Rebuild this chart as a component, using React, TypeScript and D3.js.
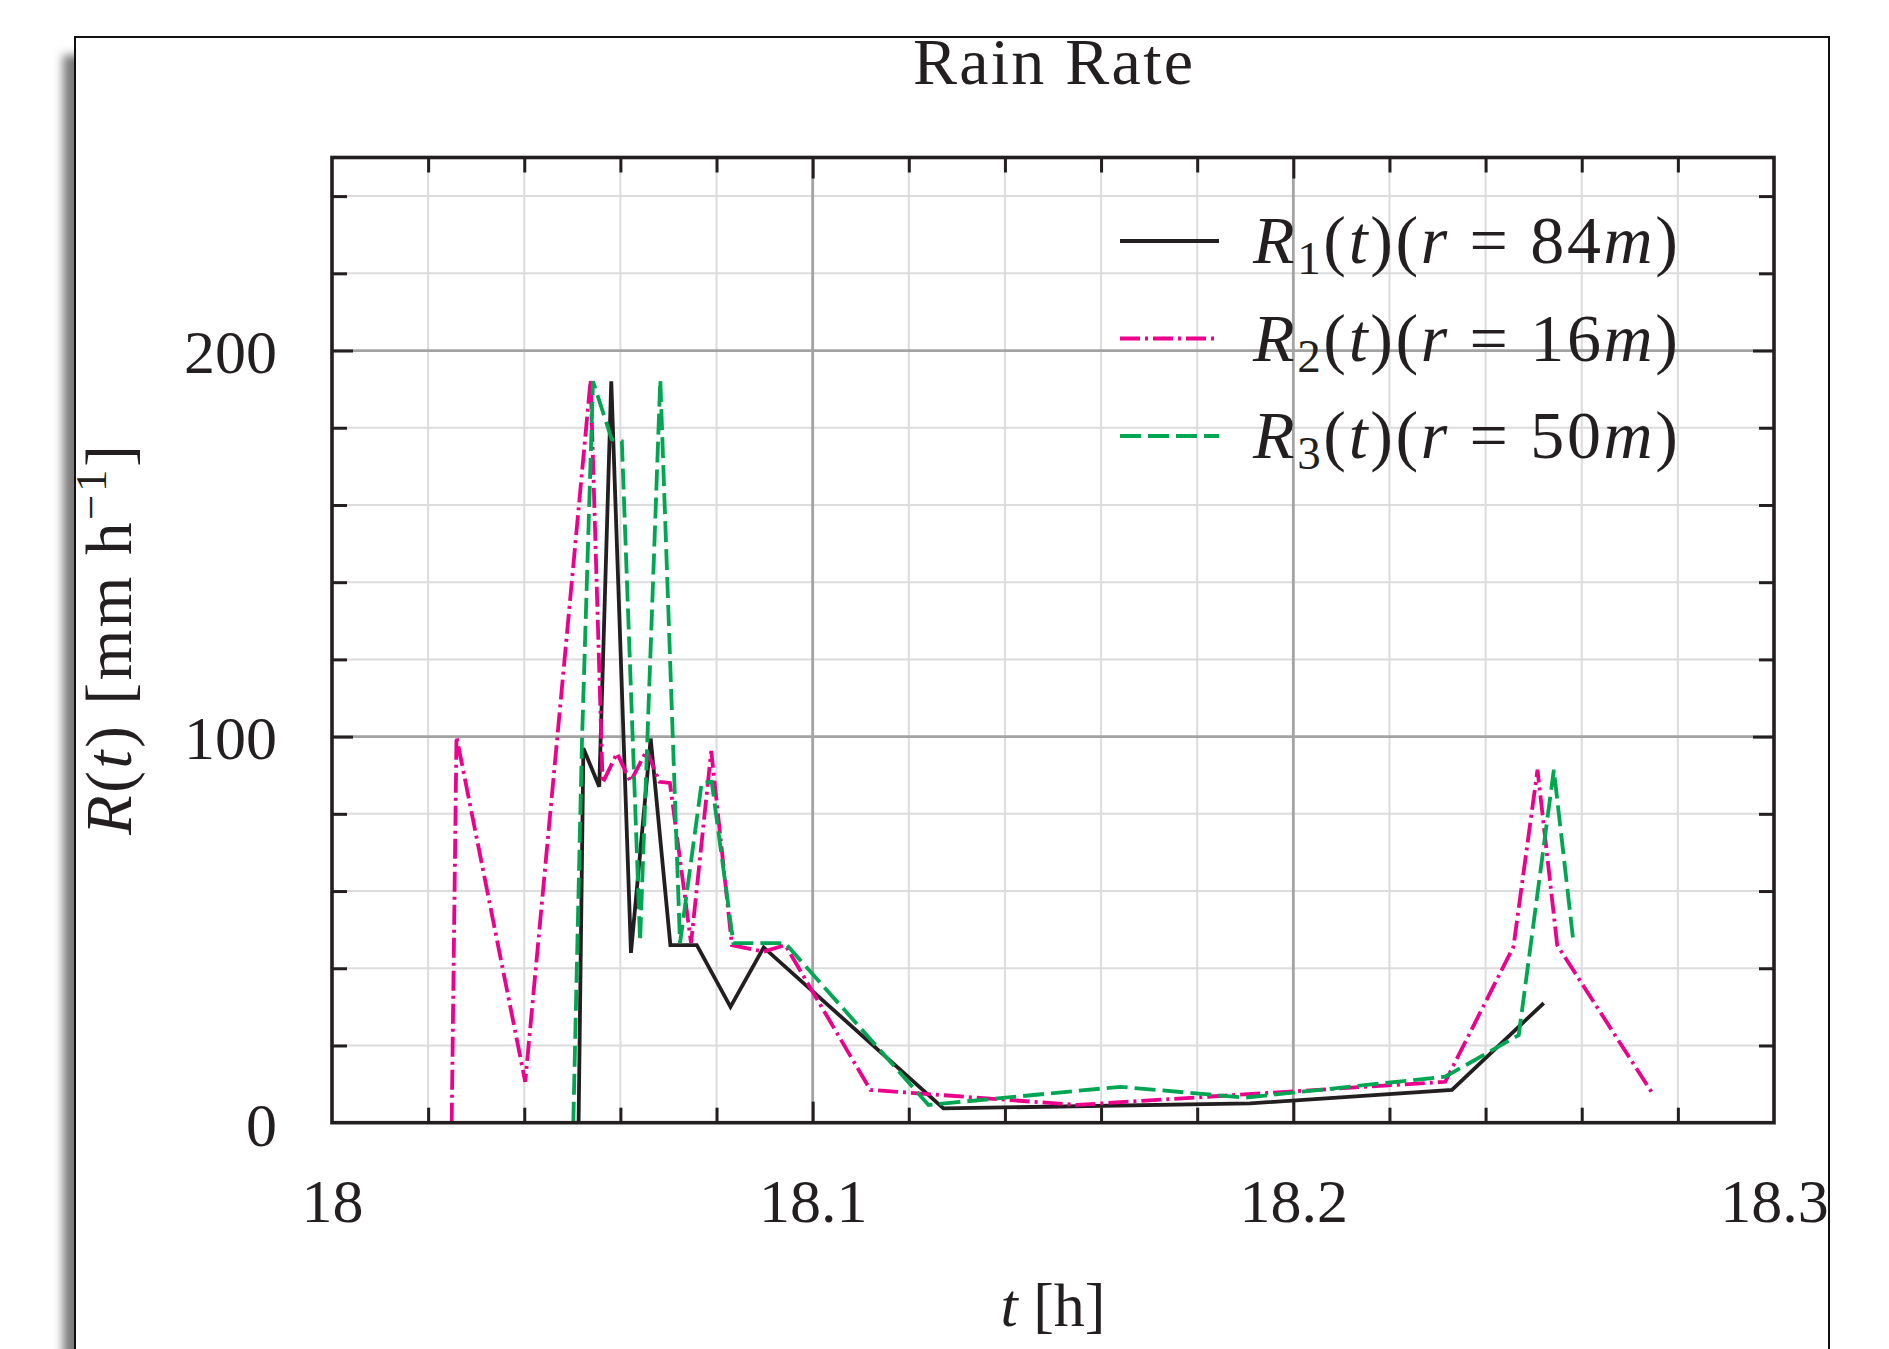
import React, { useEffect, useRef } from "react";
import * as d3 from "d3";

// R1(t), r = 84 m  (solid black)
const r1Time = [18.0513, 18.0523, 18.0556, 18.0581, 18.0622, 18.0663, 18.0704, 18.0759, 18.0829, 18.0898, 18.1272, 18.191, 18.233, 18.2521];
const r1Rate = [0, 97, 87, 192, 44, 99.5, 46, 46, 30, 45.4, 3.7, 5.0, 8.5, 31];

// R2(t), r = 16 m  (magenta dash-dot)
const r2Time = [18.0249, 18.0259, 18.0402, 18.0538, 18.0563, 18.0593, 18.0621, 18.0655, 18.0681, 18.0703, 18.0747, 18.0789, 18.0832, 18.0898, 18.0943, 18.112, 18.155, 18.2316, 18.2458, 18.2508, 18.2549, 18.2747];
const r2Rate = [0, 100, 10.6, 192.4, 88, 95.7, 88.3, 96.5, 88.3, 88, 46.5, 96.3, 46, 44.3, 46, 8.5, 4.6, 10.6, 45.6, 91.4, 46, 7.6];

// R3(t), r = 50 m  (green dashed)
const r3Time = [18.0502, 18.052, 18.0543, 18.0582, 18.0603, 18.0641, 18.0683, 18.0724, 18.0769, 18.079, 18.0835, 18.0943, 18.1241, 18.164, 18.19, 18.2316, 18.2469, 18.2542, 18.2583];
const r3Rate = [0, 98.5, 192, 177, 176.5, 47, 192.4, 46.5, 88, 88.3, 46.5, 46.5, 4.6, 9.3, 6.5, 11.9, 22.7, 91.4, 46.5];

const xTicks = [18, 18.1, 18.2, 18.3];
const xTickLabels = ["18", "18.1", "18.2", "18.3"];
const yTicks = [0, 100, 200];
const yTickLabels = ["0", "100", "200"];
const legendIndex = ["1", "2", "3"];
const legendRadius = ["84", "16", "50"];

const FONT = "'Liberation Serif', 'Times New Roman', serif";
const INK = "#231f20";

const App = () => {
  const svgRef = useRef<SVGSVGElement>(null);

  useEffect(() => {
    const svg = d3.select(svgRef.current);
    svg.selectAll("*").remove();

    const height = 1349;
    const frame = { x: 75, y: 37, w: 1754, h: 1320 };
    const plot = { left: 332, right: 1774, top: 157.5, bottom: 1122.7 };

    const x = d3.scaleLinear().domain([18, 18.3]).range([plot.left, plot.right]);
    const y = d3.scaleLinear().domain([0, 250]).range([plot.bottom, plot.top]);

    const series = [
      { t: r1Time, v: r1Rate, color: INK, dash: null },
      { t: r2Time, v: r2Rate, color: "#ec008c", dash: "20 5 3 5" },
      { t: r3Time, v: r3Rate, color: "#00a651", dash: "21 7" },
    ];

    // shadow + frame
    const defs = svg.append("defs");
    defs.append("filter").attr("id", "blur").attr("x", "-50%").attr("width", "200%")
      .append("feGaussianBlur").attr("stdDeviation", 5);
    svg.append("rect")
      .attr("x", frame.x - 12).attr("y", frame.y + 18)
      .attr("width", 30).attr("height", height)
      .attr("fill", "#7a7a7a").attr("filter", "url(#blur)");
    svg.append("rect")
      .attr("x", frame.x).attr("y", frame.y)
      .attr("width", frame.w).attr("height", frame.h)
      .attr("fill", "#fff").attr("stroke", "#111").attr("stroke-width", 2);

    // title
    svg.append("text")
      .attr("x", (plot.left + plot.right) / 2).attr("y", 84)
      .attr("text-anchor", "middle").attr("font-family", FONT).attr("font-size", 66)
      .attr("textLength", 280).attr("lengthAdjust", "spacing")
      .attr("fill", INK).text("Rain Rate");

    // grid
    const xMinor = d3.range(18.02, 18.29, 0.02).filter(d => Math.abs(d - 18.1) > 1e-6 && Math.abs(d - 18.2) > 1e-6);
    const yMinor = d3.range(20, 250, 20).filter(d => d !== 100 && d !== 200);
    const xMajor = [18.1, 18.2];
    const yMajor = [100, 200];

    const grid = svg.append("g");
    grid.selectAll(".vx").data(xMinor).join("line")
      .attr("x1", d => x(d)).attr("x2", d => x(d))
      .attr("y1", plot.top).attr("y2", plot.bottom)
      .attr("stroke", "#dcdcdc").attr("stroke-width", 2);
    grid.selectAll(".hy").data(yMinor).join("line")
      .attr("x1", plot.left).attr("x2", plot.right)
      .attr("y1", d => y(d)).attr("y2", d => y(d))
      .attr("stroke", "#dcdcdc").attr("stroke-width", 2);
    grid.selectAll(".vX").data(xMajor).join("line")
      .attr("x1", d => x(d)).attr("x2", d => x(d))
      .attr("y1", plot.top).attr("y2", plot.bottom)
      .attr("stroke", "#a3a3a3").attr("stroke-width", 2.8);
    grid.selectAll(".hY").data(yMajor).join("line")
      .attr("x1", plot.left).attr("x2", plot.right)
      .attr("y1", d => y(d)).attr("y2", d => y(d))
      .attr("stroke", "#a3a3a3").attr("stroke-width", 2.8);

    // series
    const line = d3.line<[number, number]>().x(d => x(d[0])).y(d => y(d[1]));
    series.forEach(s => {
      const pts = s.t.map((t, i) => [t, s.v[i]] as [number, number]);
      const p = svg.append("path")
        .datum(pts)
        .attr("fill", "none")
        .attr("stroke", s.color)
        .attr("stroke-width", 3.8)
        .attr("stroke-linejoin", "miter")
        .attr("d", line);
      if (s.dash) p.attr("stroke-dasharray", s.dash);
    });

    // legend
    const lg = svg.append("g");
    const legendY = [241, 338.5, 436];
    series.forEach((s, i) => {
      const ly = legendY[i];
      const l = lg.append("line")
        .attr("x1", 1120).attr("x2", 1219).attr("y1", ly).attr("y2", ly)
        .attr("stroke", s.color).attr("stroke-width", 3.8);
      if (s.dash) l.attr("stroke-dasharray", s.dash);
      const t = lg.append("text")
        .attr("x", 1253).attr("y", ly + 22)
        .attr("font-family", FONT).attr("font-size", 68).attr("fill", INK)
        .attr("textLength", 425).attr("lengthAdjust", "spacing");
      t.append("tspan").attr("font-style", "italic").text("R");
      t.append("tspan").attr("font-size", 47).attr("dy", 11).text(legendIndex[i]);
      t.append("tspan").attr("dy", -11).text("(");
      t.append("tspan").attr("font-style", "italic").text("t");
      t.append("tspan").text(")(");
      t.append("tspan").attr("font-style", "italic").text("r");
      t.append("tspan").text(" = " + legendRadius[i]);
      t.append("tspan").attr("font-style", "italic").text("m");
      t.append("tspan").text(")");
    });

    // plot border
    svg.append("rect")
      .attr("x", plot.left).attr("y", plot.top)
      .attr("width", plot.right - plot.left).attr("height", plot.bottom - plot.top)
      .attr("fill", "none").attr("stroke", INK).attr("stroke-width", 3.6);

    // ticks (inward)
    const tickStyle = (g: any) => {
      g.select(".domain").remove();
      g.attr("color", INK);
      g.selectAll("line").attr("stroke-width", 3);
      g.selectAll("text").remove();
    };
    svg.append("g").attr("transform", `translate(0,${plot.bottom})`)
      .call(d3.axisBottom(x).tickValues(xMinor).tickSize(-15)).call(tickStyle);
    svg.append("g").attr("transform", `translate(0,${plot.bottom})`)
      .call(d3.axisBottom(x).tickValues(xMajor).tickSize(-21)).call(tickStyle);
    svg.append("g").attr("transform", `translate(0,${plot.top})`)
      .call(d3.axisTop(x).tickValues(xMinor).tickSize(-15)).call(tickStyle);
    svg.append("g").attr("transform", `translate(0,${plot.top})`)
      .call(d3.axisTop(x).tickValues(xMajor).tickSize(-21)).call(tickStyle);
    svg.append("g").attr("transform", `translate(${plot.left},0)`)
      .call(d3.axisLeft(y).tickValues(yMinor).tickSize(-15)).call(tickStyle);
    svg.append("g").attr("transform", `translate(${plot.left},0)`)
      .call(d3.axisLeft(y).tickValues(yMajor).tickSize(-21)).call(tickStyle);
    svg.append("g").attr("transform", `translate(${plot.right},0)`)
      .call(d3.axisRight(y).tickValues(yMinor).tickSize(-15)).call(tickStyle);
    svg.append("g").attr("transform", `translate(${plot.right},0)`)
      .call(d3.axisRight(y).tickValues(yMajor).tickSize(-21)).call(tickStyle);

    // tick labels
    const xl = svg.append("g").attr("transform", `translate(0,${plot.bottom})`)
      .call(d3.axisBottom(x).tickValues(xTicks).tickSize(0).tickFormat((_d, i) => xTickLabels[i]));
    xl.select(".domain").remove();
    xl.attr("font-family", FONT).attr("font-size", 62);
    xl.selectAll("text").attr("y", 99).attr("dy", 0).attr("fill", INK);

    const yl = svg.append("g").attr("transform", `translate(${plot.left},0)`)
      .call(d3.axisLeft(y).tickValues(yTicks).tickSize(0).tickPadding(55).tickFormat((_d, i) => yTickLabels[i]));
    yl.select(".domain").remove();
    yl.attr("font-family", FONT).attr("font-size", 62);
    yl.selectAll("text").attr("dy", "0.36em").attr("fill", INK);

    // axis titles
    const xt = svg.append("text")
      .attr("x", (plot.left + plot.right) / 2).attr("y", 1326)
      .attr("text-anchor", "middle").attr("font-family", FONT).attr("font-size", 62).attr("fill", INK);
    xt.append("tspan").attr("font-style", "italic").text("t");
    xt.append("tspan").text(" [h]");

    const yt = svg.append("text")
      .attr("transform", `translate(131,${(plot.top + plot.bottom) / 2}) rotate(-90)`)
      .attr("text-anchor", "middle").attr("font-family", FONT).attr("font-size", 65).attr("fill", INK)
      .attr("textLength", 390).attr("lengthAdjust", "spacing");
    yt.append("tspan").attr("font-style", "italic").text("R");
    yt.append("tspan").text("(");
    yt.append("tspan").attr("font-style", "italic").text("t");
    yt.append("tspan").text(") [mm h");
    yt.append("tspan").attr("font-size", 45).attr("dy", -25).text("\u22121");
    yt.append("tspan").attr("dy", 25).text("]");
  }, []);

  return (
    <svg
      ref={svgRef}
      width={1889}
      height={1349}
      style={{ position: "absolute", left: 0, top: 0, background: "#fff" }}
    ></svg>
  );
};

export default App;
